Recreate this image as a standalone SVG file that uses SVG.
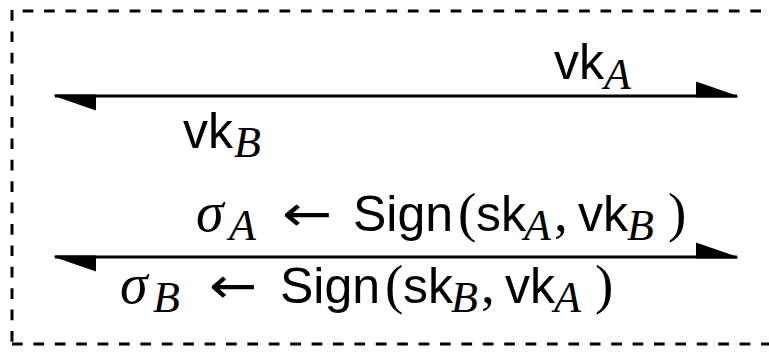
<svg xmlns="http://www.w3.org/2000/svg" width="769" height="352" viewBox="0 0 769 352">
<style>
.frame{stroke:#000;stroke-width:3;stroke-dasharray:10.7 10.7;fill:none}
.conn{stroke:#000;stroke-width:3;fill:none;marker-start:url(#harp);marker-end:url(#harp)}
text{fill:#000;font-size:50px;font-family:"Liberation Sans",Arial,sans-serif}
.m{font-family:"Liberation Serif","Times New Roman",serif;font-style:italic;font-size:56px}
.r{font-family:"Liberation Serif","DejaVu Serif",serif;font-size:55px}
.s{font-family:"Liberation Serif","Times New Roman",serif;font-style:italic;font-size:44px}
.ar{font-family:"DejaVu Sans",sans-serif;font-size:50px}
</style>
<defs>
<marker id="harp" markerUnits="userSpaceOnUse" markerWidth="44" markerHeight="18" refX="41" refY="14.5" orient="auto-start-reverse" overflow="visible">
<path d="M0,0 L42,14.5 L41,16 L0,16 Z" fill="#000"/>
</marker>
</defs>
<g id="frame">
<line class="frame" x1="12" y1="10" x2="12" y2="344"/>
<line class="frame" x1="12" y1="11" x2="780" y2="11" stroke-dashoffset="10.7"/>
<line class="frame" x1="12" y1="344" x2="780" y2="344"/>
</g>
<g id="connectors">
<line class="conn" x1="55" y1="96" x2="737" y2="96"/>
<line class="conn" x1="55" y1="257" x2="737" y2="257"/>
</g>
<g id="label-vkA">
<text x="554" y="79">vk<tspan class="s" x="604" y="89">A</tspan></text>
</g>
<g id="label-vkB">
<text x="183" y="148">vk<tspan class="s" x="234" y="157">B</tspan></text>
</g>
<g id="label-sigmaA">
<text y="231"><tspan class="m" x="196">σ</tspan><tspan class="s" x="229" y="240">A</tspan><tspan x="353" y="231">Sign</tspan><tspan class="r" x="458">(</tspan><tspan x="476">sk</tspan><tspan class="s" x="524" y="240">A</tspan><tspan class="r" x="554" y="231">,</tspan><tspan x="578">vk</tspan><tspan class="s" x="627" y="240">B</tspan><tspan class="r" x="668" y="231">)</tspan></text>
<text class="ar" transform="translate(282,231) scale(1.2,1)">←</text>
</g>
<g id="label-sigmaB">
<text y="303"><tspan class="m" x="120">σ</tspan><tspan class="s" x="153" y="312">B</tspan><tspan x="280" y="303">Sign</tspan><tspan class="r" x="385">(</tspan><tspan x="403">sk</tspan><tspan class="s" x="451" y="312">B</tspan><tspan class="r" x="481" y="303">,</tspan><tspan x="505">vk</tspan><tspan class="s" x="554" y="312">A</tspan><tspan class="r" x="595" y="303">)</tspan></text>
<text class="ar" transform="translate(209,303) scale(1.15,1)">←</text>
</g>
</svg>
